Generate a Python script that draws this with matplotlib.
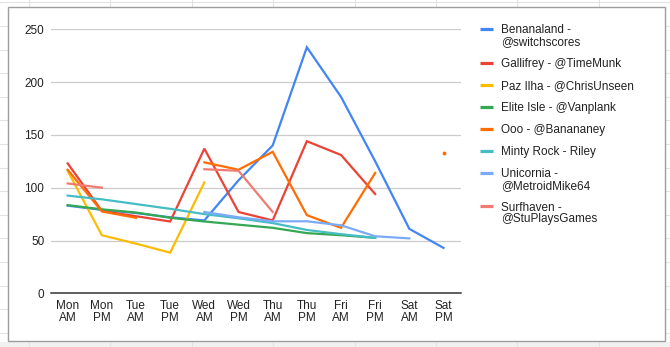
import matplotlib
matplotlib.use("Agg")
import matplotlib.pyplot as plt
import numpy as np
from matplotlib.patches import Rectangle

nan = np.nan

# Data
slots = ["Mon\nAM", "Mon\nPM", "Tue\nAM", "Tue\nPM", "Wed\nAM", "Wed\nPM",
         "Thu\nAM", "Thu\nPM", "Fri\nAM", "Fri\nPM", "Sat\nAM", "Sat\nPM"]

benanaland = [83, 79, 76, 72, 69, 107, 140, 233, 186, 125, 61, 43]
gallifrey = [123, 78, 73, 68, 137, 77, 69, 144, 131, 94, nan, nan]
paz_ilha = [116, 55, 47, 38.5, 105, nan, nan, nan, nan, nan, nan, nan]
elite_isle = [83.5, 79.5, 76.5, 71.5, 68, 65, 62, 57, 55, 52.5, nan, nan]
ooo = [117, 77.5, 71.5, nan, 124, 117, 134, 74, 62, 114, nan, 132.5]
minty_rock = [92.5, 89, 84.5, 80, 75, 71, 66.5, 60, 56, 52.5, nan, nan]
unicornia = [nan, nan, nan, nan, 77, 72, 68.2, 68.2, 64.4, 54, 52, nan]
surfhaven = [104, 100, nan, nan, 117.5, 116, 77, nan, nan, nan, nan, nan]

series = [
    ("Benanaland -\n@switchscores", benanaland, "#4285F4"),
    ("Gallifrey - @TimeMunk", gallifrey, "#EA4335"),
    ("Paz Ilha - @ChrisUnseen", paz_ilha, "#FBBC04"),
    ("Elite Isle - @Vanplank", elite_isle, "#34A853"),
    ("Ooo - @Banananey", ooo, "#FF6D01"),
    ("Minty Rock - Riley", minty_rock, "#46BDC6"),
    ("Unicornia -\n@MetroidMike64", unicornia, "#7BAAF7"),
    ("Surfhaven -\n@StuPlaysGames", surfhaven, "#F07B72"),
]

W, H = 670, 347
plt.rcParams["font.family"] = ["Liberation Sans", "DejaVu Sans"]
fig = plt.figure(figsize=(W / 100, H / 100), dpi=100)

# spreadsheet backdrop, in pixel coordinates
bg = fig.add_axes([0, 0, 1, 1], zorder=-1)
bg.set_xlim(0, W)
bg.set_ylim(H, 0)
bg.axis("off")
bg.add_patch(Rectangle((0, 341.5), W, 6, color="#f1f1f1", lw=0, zorder=0))
for y in np.arange(2.4, H, 23.6):
    bg.axhline(y, color="#e2e2e2", lw=0.8, zorder=0.5)
for x in np.arange(29, W, 81.4):
    bg.axvline(x, color="#e2e2e2", lw=0.8, zorder=0.5)
bg.add_patch(Rectangle((7.7, 6.7), 657.3, 334, facecolor="white",
                       edgecolor="#9e9e9e", lw=1.0, zorder=1))

# main chart
ax = fig.add_axes([50.6 / W, 53.7 / H, 410 / W, 264 / H])
ax.set_facecolor("none")
x = np.arange(len(slots))
for label, vals, color in series:
    v = np.array(vals, dtype=float)
    ax.plot(x, v, color=color, lw=1.6, solid_joinstyle="miter", zorder=3)
    # isolated points are shown as dots
    prev_nan = np.r_[True, np.isnan(v[:-1])]
    next_nan = np.r_[np.isnan(v[1:]), True]
    lone = ~np.isnan(v) & prev_nan & next_nan
    ax.plot(x[lone], v[lone], "o", color=color, ms=2.8, mew=0, zorder=3)

ax.set_xlim(-0.5, len(slots) - 0.5)
ax.set_ylim(0, 250)
ax.set_yticks([0, 50, 100, 150, 200, 250])
ax.set_xticks(x)
ax.set_xticklabels(slots, linespacing=1.0)
ax.grid(axis="y", color="#cccccc", lw=0.9)
ax.set_axisbelow(True)
for s in ("top", "right", "left"):
    ax.spines[s].set_visible(False)
ax.spines["bottom"].set_color("#333333")
ax.spines["bottom"].set_linewidth(1.1)
ax.tick_params(axis="both", length=0, labelsize=8.5, labelcolor="#222222")
ax.tick_params(axis="y", pad=4.5)
ax.tick_params(axis="x", pad=5)

# legend on the right
y = 29.0
for label, vals, color in series:
    bg.plot([480, 492.5], [y, y], color=color, lw=2.3, solid_capstyle="butt",
            zorder=2)
    lines = label.split("\n")
    for i, line in enumerate(lines):
        bg.text(501, y + 4.2 + 11.7 * i, line, fontsize=8.5, color="#222222",
                va="baseline", ha="left", zorder=3)
    y += 22 + 11.7 * (len(lines) - 1)

fig.savefig("out.png", dpi=100)
